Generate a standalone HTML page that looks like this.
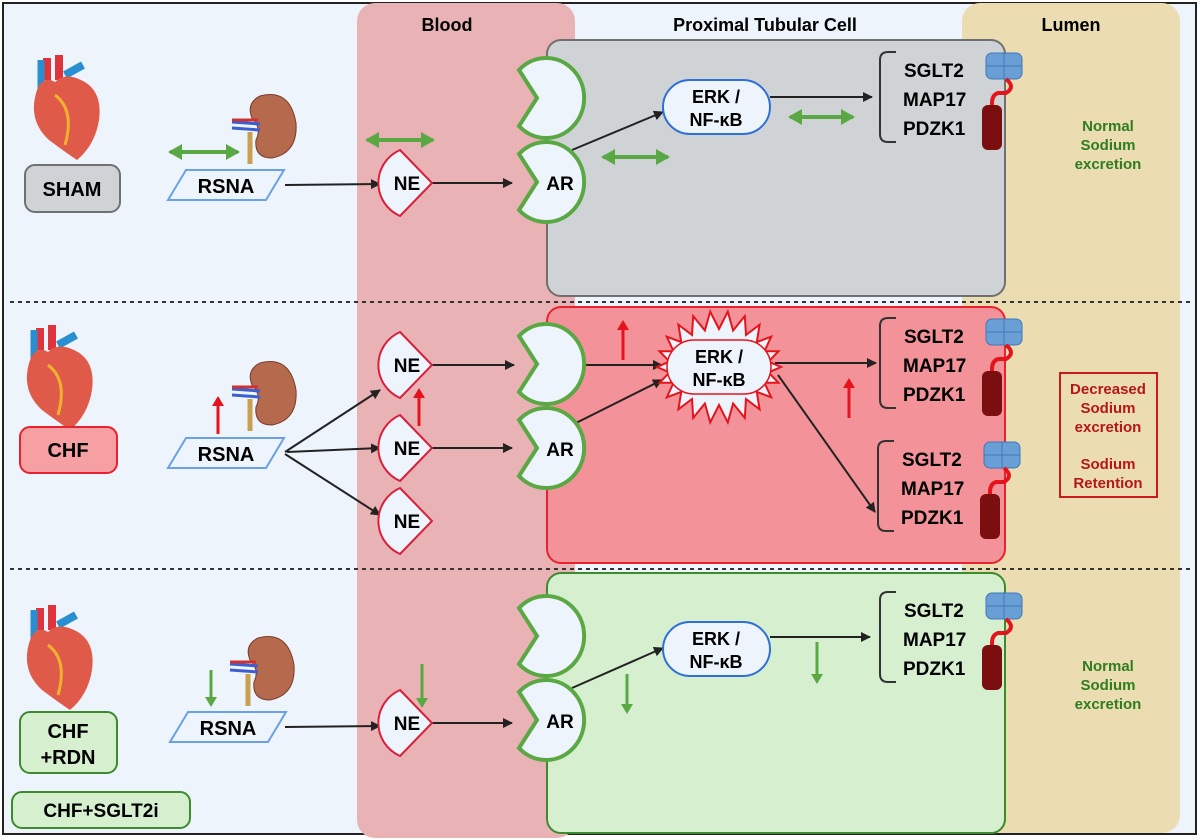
<!DOCTYPE html>
<html><head><meta charset="utf-8"><style>
html,body{margin:0;padding:0;background:#fff;}
svg{display:block;}
text{font-family:"Liberation Sans",Arial,sans-serif;font-weight:bold;}
</style></head><body>
<svg width="1200" height="840" viewBox="0 0 1200 840" xmlns="http://www.w3.org/2000/svg">
<defs>
<marker id="ah" markerWidth="10" markerHeight="10" refX="9" refY="5" orient="auto" markerUnits="userSpaceOnUse"><path d="M0,0 L10,5 L0,10 Z" fill="#222"/></marker>
<marker id="gh" markerWidth="14" markerHeight="16" refX="12" refY="8" orient="auto-start-reverse" markerUnits="userSpaceOnUse"><path d="M0,0 L14,8 L0,16 Z" fill="#5aa843"/></marker>
<marker id="rh" markerWidth="10" markerHeight="12" refX="8" refY="6" orient="auto" markerUnits="userSpaceOnUse"><path d="M0,0 L10,6 L0,12 Z" fill="#e5141c"/></marker>
<marker id="dh" markerWidth="10" markerHeight="12" refX="8" refY="6" orient="auto" markerUnits="userSpaceOnUse"><path d="M0,0 L10,6 L0,12 Z" fill="#5aa843"/></marker>
<g id="rec"><path d="M-26,-28 A38,40 0 1 1 -26,28 L-8,0 Z" fill="#eef4fc" stroke="#5aa843" stroke-width="4"/></g>
<g id="ne"><path d="M-10,-33 L22,0 L-10,33 A36,36 0 0 1 -10,-33 Z" fill="#eef4fc" stroke="#d8203a" stroke-width="2"/><text x="-3" y="7" font-size="19" text-anchor="middle">NE</text></g>
<g id="rsna"><path d="M18,-15 L116,-15 L98,15 L0,15 Z" fill="#eef4fc" stroke="#6aa0e8" stroke-width="2"/><text x="58" y="8" font-size="20" text-anchor="middle">RSNA</text></g>
<g id="sg"><path d="M10,-45 L2,-45 Q-6,-45 -6,-37 L-6,37 Q-6,45 2,45 L10,45" fill="none" stroke="#333" stroke-width="2"/>
<text x="18" y="-20" font-size="19">SGLT2</text><text x="17" y="9" font-size="19">MAP17</text><text x="17" y="38" font-size="19">PDZK1</text>
<rect x="100" y="-44" width="36" height="26" rx="6" fill="#6a9fd6" stroke="#3f78b8"/><line x1="118" y1="-44" x2="118" y2="-18" stroke="#3f78b8"/><line x1="100" y1="-31" x2="136" y2="-31" stroke="#3f78b8"/>
<path d="M120,-18 Q130,-10 120,-4 L112,-4 Q106,-2 106,6 L106,10" fill="none" stroke="#e5141c" stroke-width="4"/>
<rect x="96" y="8" width="20" height="45" rx="6" fill="#7b0f0f"/></g>
<g id="heart"><path d="M12,-42 L12,-20 M24,-45 L24,-20" stroke="#e0343c" stroke-width="8"/><path d="M6,-40 L6,20" stroke="#2a8fd0" stroke-width="7"/><path d="M30,-25 L48,-35" stroke="#2a8fd0" stroke-width="8"/>
<path d="M2,-10 Q-8,20 14,40 Q30,52 42,60 Q60,45 64,20 Q68,-10 46,-20 Q30,-28 20,-18 Q8,-25 2,-10 Z" fill="#e05a4a"/><path d="M20,-5 Q40,10 30,45" stroke="#f0b030" stroke-width="3" fill="none"/></g>
<g id="kid"><path d="M20,-32 Q50,-40 56,-5 Q58,25 32,30 Q14,30 16,12 Q22,0 12,-10 Q6,-25 20,-32 Z" fill="#b56a4e" stroke="#7a3a2a"/><path d="M-8,-6 L20,-4 M-8,0 L20,2" stroke="#3b5fd0" stroke-width="3"/><path d="M-8,-8 L18,-8" stroke="#d03030" stroke-width="3"/><path d="M10,4 L10,36" stroke="#c9a050" stroke-width="5"/></g>
</defs>
<rect x="0" y="0" width="1200" height="840" fill="#fff"/>
<rect x="3" y="3" width="1193" height="831" fill="#eef4fc" stroke="#222" stroke-width="2"/>
<rect x="357" y="3" width="218" height="835" rx="18" fill="#e9b3b6"/>
<rect x="962" y="3" width="218" height="830" rx="18" fill="#ecdcb2"/>
<text x="447" y="31" font-size="18" text-anchor="middle">Blood</text>
<text x="765" y="31" font-size="18" text-anchor="middle">Proximal Tubular Cell</text>
<text x="1071" y="31" font-size="18" text-anchor="middle">Lumen</text>
<line x1="10" y1="302" x2="1190" y2="302" stroke="#333" stroke-width="2" stroke-dasharray="4,4"/>
<line x1="10" y1="569" x2="1190" y2="569" stroke="#333" stroke-width="2" stroke-dasharray="4,4"/>
<rect x="547" y="40" width="458" height="256" rx="14" fill="#d0d3d6" stroke="#707070" stroke-width="2"/>
<rect x="547" y="307" width="458" height="256" rx="14" fill="#f39298" stroke="#e8232f" stroke-width="2"/>
<rect x="547" y="573" width="458" height="260" rx="14" fill="#d5efcf" stroke="#3d8a2f" stroke-width="2"/>

<use href="#heart" x="35" y="100"/><use href="#heart" x="28" y="370"/><use href="#heart" x="28" y="650"/>
<use href="#kid" x="240" y="128"/><use href="#kid" x="240" y="395"/><use href="#kid" x="238" y="670"/>
<rect x="25" y="165" width="95" height="47" rx="10" fill="#d0d3d6" stroke="#707070" stroke-width="2"/><text x="72" y="196" font-size="20" text-anchor="middle">SHAM</text>
<rect x="20" y="427" width="97" height="46" rx="10" fill="#f6a0a3" stroke="#e8232f" stroke-width="2"/><text x="68" y="457" font-size="20" text-anchor="middle">CHF</text>
<rect x="20" y="712" width="97" height="61" rx="10" fill="#d5efcf" stroke="#3d8a2f" stroke-width="2"/><text x="68" y="738" font-size="20" text-anchor="middle">CHF</text><text x="68" y="764" font-size="20" text-anchor="middle">+RDN</text>
<rect x="12" y="792" width="178" height="36" rx="10" fill="#d5efcf" stroke="#3d8a2f" stroke-width="2"/><text x="101" y="817" font-size="19" text-anchor="middle">CHF+SGLT2i</text>
<use href="#rsna" x="168" y="185"/><use href="#rsna" x="168" y="453"/><use href="#rsna" x="170" y="727"/>

<g stroke="#222" stroke-width="2" marker-end="url(#ah)" fill="none">
<line x1="285" y1="185" x2="380" y2="184"/><line x1="432" y1="183" x2="512" y2="183"/><line x1="572" y1="150" x2="663" y2="112"/><line x1="770" y1="97" x2="872" y2="97"/>
<line x1="285" y1="452" x2="380" y2="390"/><line x1="287" y1="452" x2="380" y2="448"/><line x1="285" y1="454" x2="380" y2="515"/>
<line x1="432" y1="365" x2="514" y2="365"/><line x1="432" y1="448" x2="512" y2="448"/>
<line x1="582" y1="365" x2="662" y2="365"/><line x1="572" y1="425" x2="662" y2="380"/>
<line x1="775" y1="363" x2="876" y2="363"/><line x1="778" y1="375" x2="875" y2="512"/>
<line x1="285" y1="727" x2="380" y2="726"/><line x1="432" y1="723" x2="512" y2="723"/><line x1="572" y1="688" x2="663" y2="648"/><line x1="770" y1="637" x2="870" y2="637"/>
</g>

<use href="#rec" x="545" y="98"/><use href="#rec" x="545" y="182"/><text x="560" y="190" font-size="19" text-anchor="middle">AR</text>
<use href="#rec" x="545" y="364"/><use href="#rec" x="545" y="448"/><text x="560" y="456" font-size="19" text-anchor="middle">AR</text>
<use href="#rec" x="545" y="636"/><use href="#rec" x="545" y="720"/><text x="560" y="728" font-size="19" text-anchor="middle">AR</text>
<use href="#ne" x="410" y="183"/><use href="#ne" x="410" y="365"/><use href="#ne" x="410" y="448"/><use href="#ne" x="410" y="521"/><use href="#ne" x="410" y="723"/>

<rect x="663" y="80" width="107" height="54" rx="27" fill="#eef4fc" stroke="#2f6fd8" stroke-width="2"/><text x="716" y="103" font-size="18" text-anchor="middle">ERK /</text><text x="716" y="126" font-size="18" text-anchor="middle">NF-κB</text>
<polygon id="star" fill="#eef4fc" stroke="#e5141c" stroke-width="2" points=""/>
<rect x="667" y="340" width="104" height="54" rx="27" fill="#eef4fc" stroke="#e5141c" stroke-width="1.5"/>
<text x="719" y="363" font-size="18" text-anchor="middle">ERK /</text><text x="719" y="386" font-size="18" text-anchor="middle">NF-κB</text>
<rect x="663" y="622" width="107" height="54" rx="27" fill="#eef4fc" stroke="#2f6fd8" stroke-width="2"/><text x="716" y="645" font-size="18" text-anchor="middle">ERK /</text><text x="716" y="668" font-size="18" text-anchor="middle">NF-κB</text>

<use href="#sg" x="886" y="97"/><use href="#sg" x="886" y="363"/><use href="#sg" x="884" y="486"/><use href="#sg" x="886" y="637"/>

<g stroke="#5aa843" stroke-width="4" marker-start="url(#gh)" marker-end="url(#gh)">
<line x1="170" y1="152" x2="238" y2="152"/><line x1="367" y1="140" x2="433" y2="140"/><line x1="603" y1="157" x2="668" y2="157"/><line x1="790" y1="117" x2="853" y2="117"/>
</g>
<g stroke="#e5141c" stroke-width="3" marker-end="url(#rh)">
<line x1="218" y1="434" x2="218" y2="398"/><line x1="419" y1="426" x2="419" y2="390"/><line x1="623" y1="360" x2="623" y2="322"/><line x1="849" y1="418" x2="849" y2="380"/>
</g>
<g stroke="#5aa843" stroke-width="3" marker-end="url(#dh)">
<line x1="211" y1="670" x2="211" y2="705"/><line x1="422" y1="664" x2="422" y2="706"/><line x1="627" y1="674" x2="627" y2="712"/><line x1="817" y1="642" x2="817" y2="682"/>
</g>

<g fill="#2e7d1e" font-size="15" text-anchor="middle">
<text x="1108" y="131">Normal</text><text x="1108" y="150">Sodium</text><text x="1108" y="169">excretion</text>
<text x="1108" y="671">Normal</text><text x="1108" y="690">Sodium</text><text x="1108" y="709">excretion</text>
</g>
<rect x="1060" y="373" width="97" height="124" fill="none" stroke="#c81c1c" stroke-width="2"/>
<g fill="#b51717" font-size="15" text-anchor="middle">
<text x="1108" y="394">Decreased</text><text x="1108" y="413">Sodium</text><text x="1108" y="432">excretion</text>
<text x="1108" y="469">Sodium</text><text x="1108" y="488">Retention</text>
</g>
</svg>
<script>
(function(){var cx=719,cy=367,n=22,p=[];for(var i=0;i<n*2;i++){var a=Math.PI*i/n;var o=i%2==0;var rx=o?62:50,ry=o?56:38;p.push((cx+rx*Math.cos(a)).toFixed(1)+","+(cy+ry*Math.sin(a)).toFixed(1));}document.getElementById("star").setAttribute("points",p.join(" "));})();
</script>
</body></html>
